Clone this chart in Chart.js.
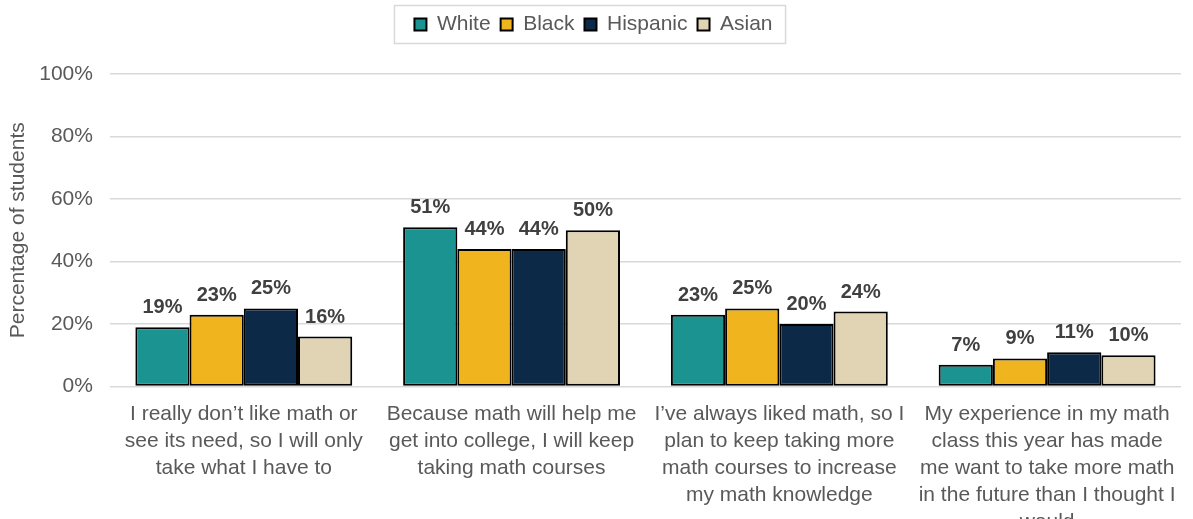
<!DOCTYPE html>
<html>
<head>
<meta charset="utf-8">
<script src="https://cdn.jsdelivr.net/npm/chart.js@4"></script>
<style>
  html, body { margin: 0; padding: 0; background: #fff; overflow: hidden; }
  #wrap { width: 1193px; height: 542px; position: relative; }
</style>
</head>
<body>
<div id="wrap"><canvas id="chart"></canvas></div>
<script>
// categories (answer choices), one array of lines per label
const categories = [
  ["I really don\u2019t like math or", "see its need, so I will only", "take what I have to"],
  ["Because math will help me", "get into college, I will keep", "taking math courses"],
  ["I\u2019ve always liked math, so I", "plan to keep taking more", "math courses to increase", "my math knowledge"],
  ["My experience in my math", "class this year has made", "me want to take more math", "in the future than I thought I", "would"]
];

const white    = [19, 51, 23, 7];
const black    = [23, 44, 25, 9];
const hispanic = [25, 44, 20, 11];
const asian    = [16, 50, 24, 10];

const yTicks = [0, 20, 40, 60, 80, 100];

const FONT = '"Liberation Sans", Arial, sans-serif';
const GREY = '#595959';

// bold percentage above each bar
const barLabels = {
  id: 'barLabels',
  afterDatasetsDraw(chart) {
    const ctx = chart.ctx;
    ctx.save();
    ctx.font = 'bold 20px ' + FONT;
    ctx.fillStyle = '#404040';
    ctx.textAlign = 'center';
    ctx.textBaseline = 'alphabetic';
    chart.data.datasets.forEach((ds, i) => {
      chart.getDatasetMeta(i).data.forEach((bar, j) => {
        ctx.fillText(ds.data[j] + '%', bar.x, bar.y - 14);
      });
    });
    ctx.restore();
  }
};

// extra room under the legend
const legendGap = {
  id: 'legendGap',
  beforeInit(chart) {
    const fit = chart.legend.fit;
    chart.legend.fit = function () {
      fit.call(this);
      this.height += 29;
    };
  }
};

// thin frame round the legend items
const legendFrame = {
  id: 'legendFrame',
  afterDraw(chart) {
    const boxes = chart.legend.legendHitBoxes;
    if (!boxes || !boxes.length) return;
    const left = Math.min(...boxes.map(b => b.left)) - 20;
    const right = Math.max(...boxes.map(b => b.left + b.width)) + 13;
    const mid = boxes[0].top + boxes[0].height / 2;
    const ctx = chart.ctx;
    ctx.save();
    ctx.strokeStyle = '#d9d9d9';
    ctx.lineWidth = 1.5;
    ctx.strokeRect(left, mid - 19, right - left, 38);
    ctx.restore();
  }
};

function makeSet(label, data, color) {
  return {
    label: label,
    data: data,
    backgroundColor: color,
    borderColor: '#000',
    borderWidth: 2,
    borderSkipped: false,
    barPercentage: 1.0,
    categoryPercentage: 0.81
  };
}

new Chart(document.getElementById('chart'), {
  type: 'bar',
  data: {
    labels: categories,
    datasets: [
      makeSet('White', white, '#1a9391'),
      makeSet('Black', black, '#f0b41e'),
      makeSet('Hispanic', hispanic, '#0c2a47'),
      makeSet('Asian', asian, '#e0d4b4')
    ]
  },
  options: {
    responsive: true,
    maintainAspectRatio: false,
    animation: false,
    layout: { padding: { left: 6, right: 12, top: 4, bottom: 0 } },
    plugins: {
      legend: {
        position: 'top',
        labels: {
          boxWidth: 12,
          boxHeight: 12,
          padding: 10,
          color: GREY,
          font: { family: FONT, size: 21 }
        }
      },
      tooltip: { enabled: false }
    },
    scales: {
      x: {
        grid: { display: false },
        border: { display: false },
        ticks: {
          color: GREY,
          autoSkip: false,
          maxRotation: 0,
          padding: 6,
          font: { family: FONT, size: 21, lineHeight: 1.29 }
        }
      },
      y: {
        min: 0,
        max: 100,
        afterBuildTicks(axis) { axis.ticks = yTicks.map(v => ({ value: v })); },
        afterFit(axis) { axis.width -= 12; },
        grid: { color: '#d9d9d9', lineWidth: 1.5, drawTicks: false },
        border: { display: false },
        ticks: {
          color: GREY,
          padding: 17,
          font: { family: FONT, size: 21 },
          callback: v => v + '%'
        },
        title: {
          display: true,
          text: 'Percentage of students',
          color: GREY,
          font: { family: FONT, size: 21 },
          padding: { top: 0, bottom: 3 }
        }
      }
    }
  },
  plugins: [legendGap, barLabels, legendFrame]
});
</script>
</body>
</html>
